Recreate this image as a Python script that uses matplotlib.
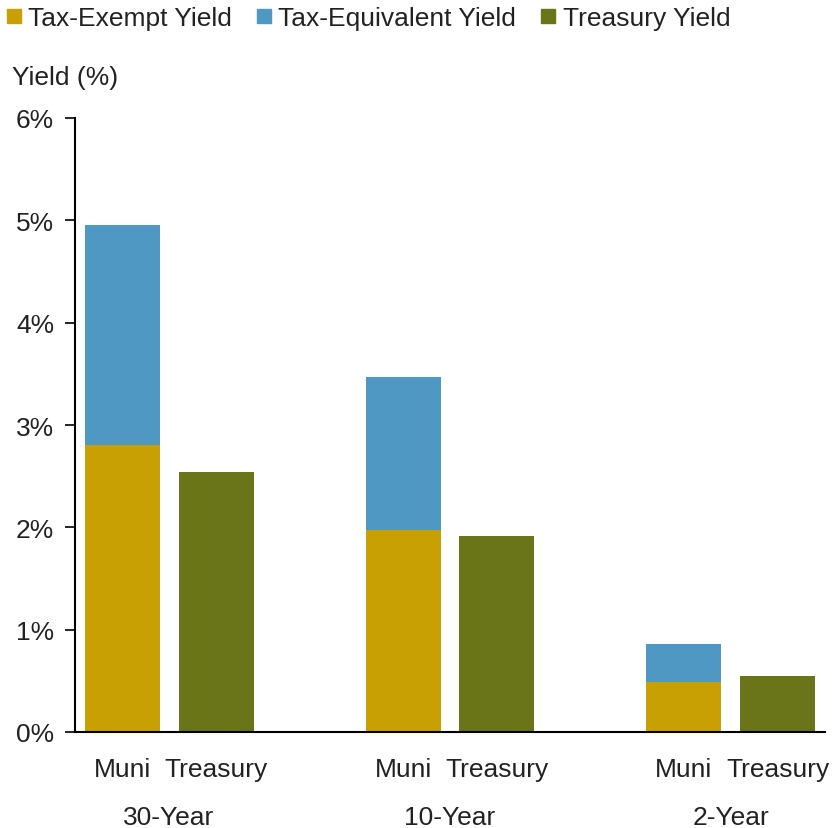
import matplotlib.pyplot as plt
from matplotlib.lines import Line2D
import numpy as np

plt.rcParams['font.family'] = ['Liberation Sans', 'DejaVu Sans']

# data
maturities = ["30-Year", "10-Year", "2-Year"]
bar_labels = ["Muni", "Treasury"]
tax_exempt = [2.80, 1.97, 0.49]
tax_equivalent = [4.95, 3.47, 0.86]
treasury = [2.54, 1.92, 0.55]
y_ticks = [0, 1, 2, 3, 4, 5, 6]

gold = '#C8A004'
blue = '#4F98C3'
olive = '#6A7419'
txt = '#222222'
fs = 19

fig = plt.figure(figsize=(8.36, 8.29), dpi=100)
ax = fig.add_axes([75 / 836, 1 - 733 / 829, 750 / 836, (733 - 119) / 829])

x = np.arange(len(maturities))
w = 0.267
off = 0.167

ax.bar(x - off, tax_exempt, width=w, color=gold)
ax.bar(x - off, np.array(tax_equivalent) - np.array(tax_exempt), width=w,
       bottom=tax_exempt, color=blue)
ax.bar(x + off, treasury, width=w, color=olive)

ax.set_xlim(-0.335, 2.335)
ax.set_ylim(0, 6)
ax.set_yticks(y_ticks)
ax.set_yticklabels([f"{v}%" for v in y_ticks], fontsize=fs, color=txt)

pos = np.concatenate([x - off, x + off])
labs = [bar_labels[0]] * 3 + [bar_labels[1]] * 3
ax.set_xticks(pos)
ax.set_xticklabels(labs, fontsize=fs, color=txt)
ax.tick_params(axis='x', length=0, pad=18)
ax.tick_params(axis='y', length=7, width=1.2, direction='out', pad=8)

for i, m in enumerate(maturities):
    ax.text(i, -0.138, m, transform=ax.get_xaxis_transform(), ha='center',
            va='center', fontsize=fs, color=txt)

for s in ['top', 'right']:
    ax.spines[s].set_visible(False)
ax.spines['left'].set_linewidth(1.5)
ax.spines['bottom'].set_linewidth(1.5)

fig.text(12 / 836, 1 - 78 / 829, "Yield (%)", fontsize=fs, color=txt,
         ha='left', va='center')

handles = [Line2D([], [], marker='s', linestyle='none', markersize=10, color=c)
           for c in [gold, blue, olive]]
fig.legend(handles, ["Tax-Exempt Yield", "Tax-Equivalent Yield", "Treasury Yield"],
           loc='center left', bbox_to_anchor=(6 / 836, 1 - 19 / 829), ncol=3,
           frameon=False, fontsize=fs, handlelength=0.6, handletextpad=0.25,
           columnspacing=0.9, borderaxespad=0, borderpad=0, labelcolor=txt)

plt.savefig('out.png', dpi=100)
